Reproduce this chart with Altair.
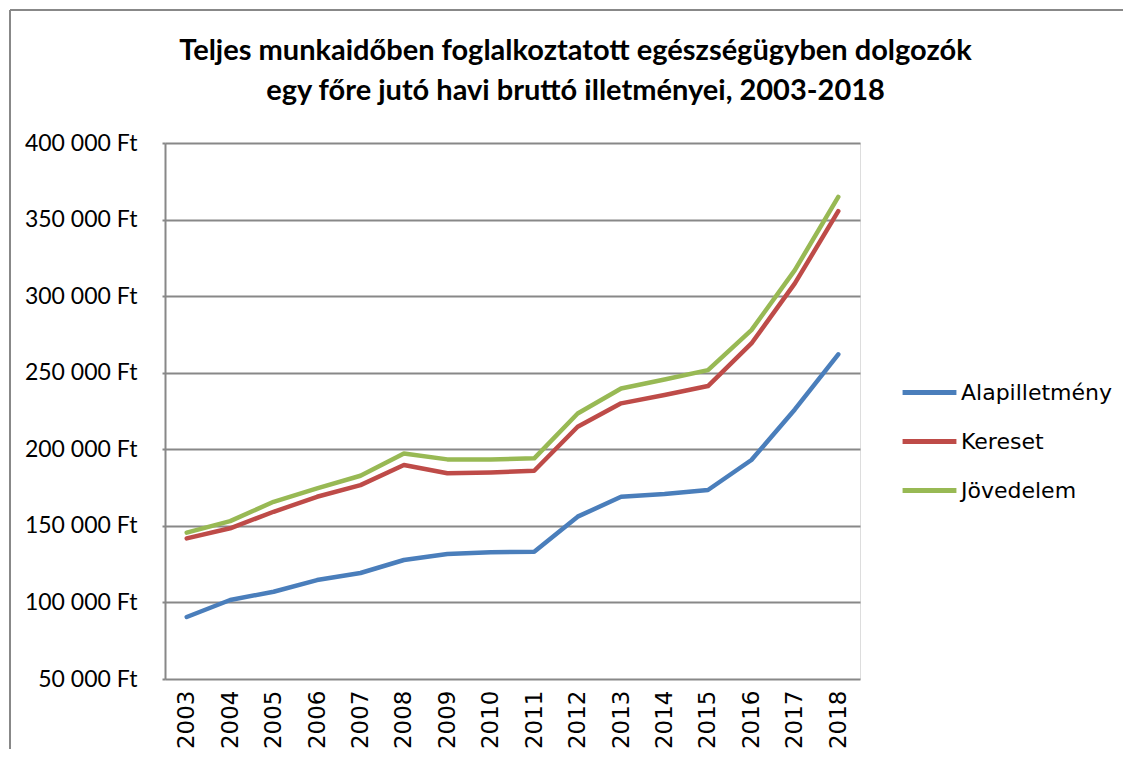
import altair as alt
import pandas as pd

years = [str(y) for y in range(2003, 2019)]
series_names = ["Alapilletmény", "Kereset", "Jövedelem"]
alap = [90500, 101600, 107000, 114600, 119200, 127700, 131600, 132700,
        133100, 156000, 169000, 170800, 173400, 193000, 226000, 262000]
kereset = [141800, 148400, 159200, 169000, 176600, 189700, 184300, 184900,
           186000, 214700, 230000, 235400, 241300, 269100, 308300, 355500]
jovedelem = [145600, 153100, 165700, 174500, 182700, 197300, 193400, 193400,
             194100, 223400, 239700, 245600, 251700, 277800, 317000, 364800]
y_ticks = [50000, 100000, 150000, 200000, 250000, 300000, 350000, 400000]
colors = ["#4A7EBB", "#BE4B48", "#98B954"]

rows = []
for name, vals in zip(series_names, [alap, kereset, jovedelem]):
    for yr, v in zip(years, vals):
        rows.append({"Év": yr, "Érték": v, "Sorozat": name})
df = pd.DataFrame(rows)

W, H = 695, 536
PL, PT = 157, 135

lines = alt.Chart(df).mark_line(strokeWidth=4.5, strokeCap="round", strokeJoin="round").encode(
    x=alt.X("Év:N", sort=years, title=None,
            scale=alt.Scale(paddingInner=0, paddingOuter=0.5),
            axis=alt.Axis(labelAngle=270, labelFont="DejaVu Sans", labelFontSize=23,
                          labelColor="#000000", labelPadding=11, ticks=False,
                          domain=False, grid=False, labelAlign="right",
                          labelBaseline="middle")),
    y=alt.Y("Érték:Q", title=None,
            scale=alt.Scale(domain=[50000, 400000], nice=False, zero=False),
            axis=alt.Axis(values=y_ticks,
                          labelExpr="replace(format(datum.value, ',d'), ',', ' ') + ' Ft'",
                          labelFont="Lato", labelFontSize=23, labelColor="#000000",
                          labelPadding=25, tickSize=3, tickColor="#888888", tickWidth=2,
                          domainColor="#888888", domainWidth=2,
                          gridColor="#888888", gridWidth=2, gridOpacity=1)),
    color=alt.Color("Sorozat:N", sort=series_names,
                    scale=alt.Scale(domain=series_names, range=colors),
                    legend=alt.Legend(title=None, orient="none", legendX=735, legendY=220,
                                      symbolType="stroke", symbolStrokeWidth=5,
                                      symbolSize=2900, labelFont="DejaVu Sans",
                                      labelFontSize=22, labelColor="#000000",
                                      rowPadding=8, labelOffset=2, padding=0)),
    order=alt.Order("Sorozat:N"),
)

frame_data = alt.Data(values=[{"a": 1}])
frame_v = alt.Chart(frame_data).mark_rule(color="#888888", strokeWidth=2).encode(
    x=alt.value(10 - 8 - PL), y=alt.value(10 - 8 - PT), y2=alt.value(800))
frame_h = alt.Chart(frame_data).mark_rule(color="#888888", strokeWidth=2).encode(
    y=alt.value(10 - 8 - PT), x=alt.value(10 - 8 - PL), x2=alt.value(1200))

chart = alt.layer(lines, frame_v, frame_h).properties(
    width=W, height=H,
    title=alt.Title(
        ["Teljes munkaidőben  foglalkoztatott egészségügyben dolgozók",
         "egy főre jutó havi bruttó illetményei, 2003-2018"],
        font="Lato", fontSize=29, fontWeight="bold", color="#000000",
        anchor="middle", lineHeight=40, offset=-97, dx=63),
    autosize=alt.AutoSizeParams(type="none"),
    padding={"left": PL, "top": PT, "right": 1115 - PL - W, "bottom": 70},
).configure_view(stroke=None).configure(background="white")

chart.save("out.html", embed_options={"renderer": "svg", "actions": False})
